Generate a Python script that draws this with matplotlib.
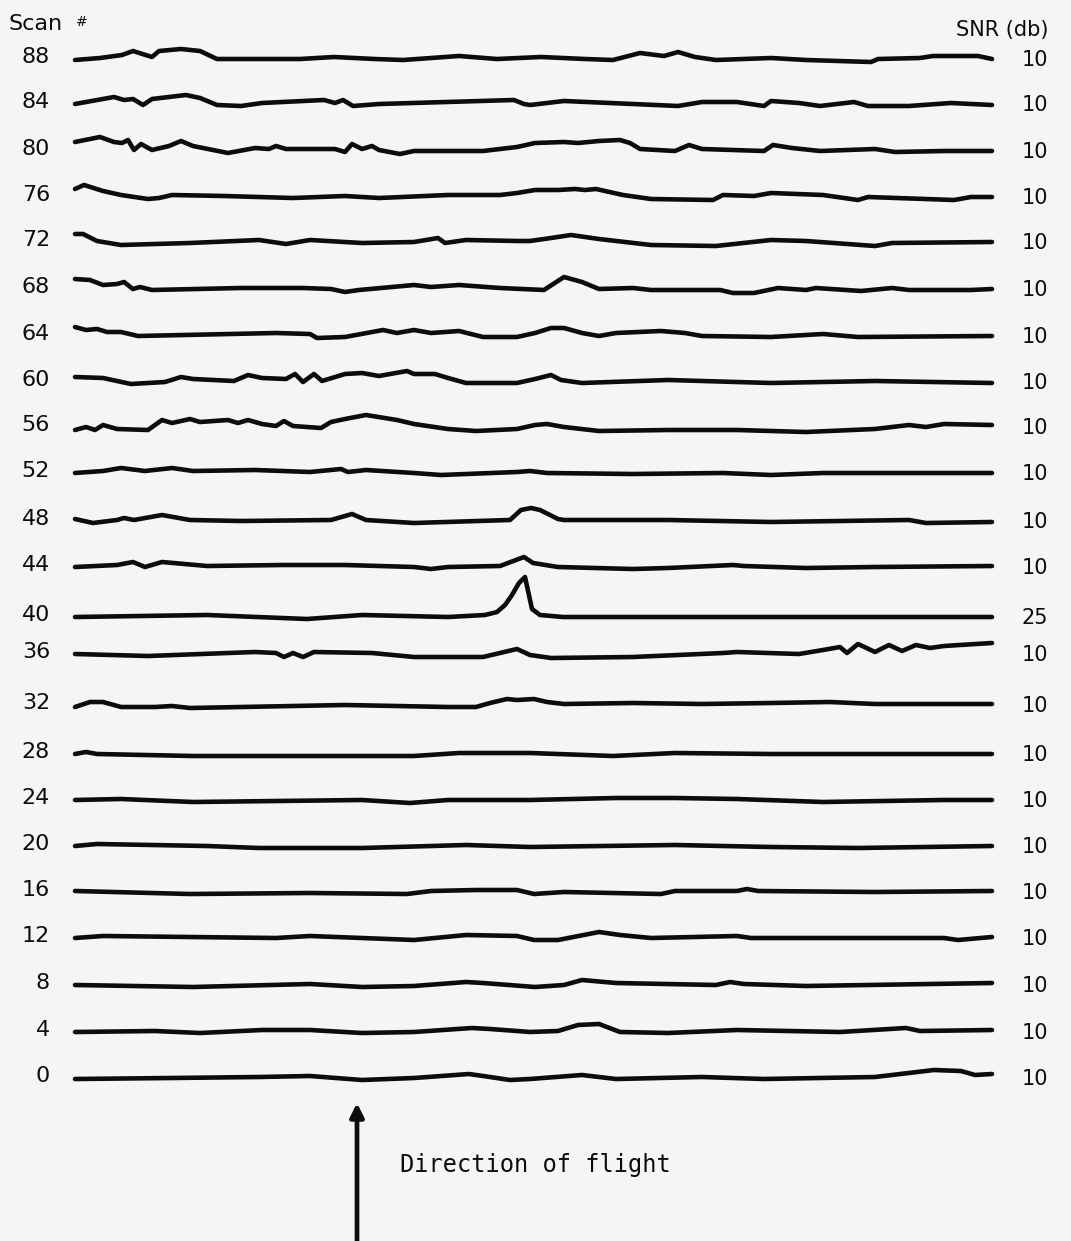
import matplotlib
matplotlib.use('Agg')
import matplotlib.pyplot as plt

# ---------------- data ----------------
# scan numbers (top to bottom) and their signal-to-noise ratio (dB)
scan_numbers = [88, 84, 80, 76, 72, 68, 64, 60, 56, 52, 48, 44,
                40, 36, 32, 28, 24, 20, 16, 12, 8, 4, 0]
snr_db = [10, 10, 10, 10, 10, 10, 10, 10, 10, 10, 10, 10,
          25, 10, 10, 10, 10, 10, 10, 10, 10, 10, 10]

# each trace: (along-track sample, relative amplitude) vertices
scan_88 = [(0, -1), (25, 1), (47, 4), (58, 8), (77, 2), (84, 8), (106, 10), (125, 8), (142, 0),
           (225, 0), (259, 2), (300, 0), (328, -1), (384, 3), (422, 0), (466, 2), (510, 0),
           (538, -1), (565, 6), (589, 3), (603, 7), (620, 2), (641, -1), (696, 1), (731, -1),
           (796, -3), (803, 0), (845, 1), (858, 3), (903, 3), (917, 0)]
scan_84 = [(0, 0), (39, 7), (49, 4), (58, 5), (68, -1), (77, 5), (111, 9), (125, 6), (142, -1),
           (166, -2), (187, 1), (249, 4), (260, 1), (268, 4), (278, -2), (304, 0), (439, 4),
           (449, 0), (455, -1), (489, 3), (558, 0), (603, -2), (627, 2), (662, 2), (689, -2),
           (696, 3), (724, 1), (745, -2), (779, 2), (793, -2), (834, -2), (876, 1), (917, -1)]
scan_80 = [(0, 9), (25, 14), (39, 9), (47, 8), (53, 11), (59, 1), (66, 7), (77, 1), (94, 5),
           (106, 10), (118, 5), (153, -2), (180, 3), (194, 2), (201, 5), (211, 2), (260, 2),
           (270, -1), (277, 7), (287, 2), (297, 5), (304, 1), (325, -3), (339, 0), (408, 0),
           (442, 4), (460, 8), (489, 9), (503, 8), (524, 10), (545, 11), (555, 8), (565, 2),
           (600, 0), (614, 6), (627, 2), (689, 0), (698, 6), (717, 3), (745, 0), (800, 2),
           (820, -1), (869, 0), (917, 0)]
scan_76 = [(0, 8), (9, 12), (28, 6), (46, 2), (73, -2), (84, -1), (97, 2), (149, 1), (218, -1),
           (270, 1), (304, -1), (373, 2), (425, 2), (442, 4), (460, 7), (483, 7), (500, 8),
           (510, 7), (521, 8), (548, 2), (576, -2), (638, -3), (648, 2), (679, 1), (696, 4),
           (748, 2), (783, -3), (793, 0), (879, -3), (896, 0), (917, 0)]
scan_72 = [(0, 8), (8, 8), (22, 1), (46, -3), (80, -2), (115, -1), (184, 2), (211, -2), (235, 2),
           (287, -1), (339, 0), (363, 4), (370, -1), (391, 2), (442, 1), (455, 1), (476, 4),
           (496, 7), (524, 3), (576, -3), (641, -4), (696, 2), (731, 1), (800, -4), (817, -1),
           (917, 0)]
scan_68 = [(0, 10), (15, 9), (28, 4), (42, 5), (49, 7), (58, 0), (65, 2), (77, -1), (166, 1),
           (228, 1), (256, 0), (270, -3), (284, -1), (339, 4), (356, 2), (384, 4), (425, 1),
           (469, -1), (489, 12), (507, 7), (524, 0), (558, 1), (576, -1), (645, -1), (658, -4),
           (679, -4), (703, 1), (731, -1), (741, 1), (786, -2), (817, 1), (834, -1), (896, -1),
           (917, 0)]
scan_64 = [(0, 9), (11, 6), (22, 7), (32, 4), (46, 4), (63, 0), (201, 3), (235, 2), (242, -2),
           (270, -1), (308, 6), (322, 3), (339, 6), (356, 3), (384, 5), (408, -1), (442, -1),
           (460, 3), (476, 8), (489, 8), (507, 3), (524, 0), (541, 3), (586, 5), (610, 3),
           (627, 0), (696, -1), (748, 2), (783, -1), (917, 0)]
scan_60 = [(0, 5), (28, 4), (56, -2), (90, 0), (106, 5), (118, 3), (159, 1), (173, 7), (187, 4),
           (211, 3), (220, 8), (228, 0), (239, 8), (247, 1), (270, 8), (287, 9), (304, 6),
           (332, 11), (339, 8), (360, 8), (373, 4), (391, -1), (442, -1), (460, 3), (476, 7),
           (486, 2), (507, -1), (593, 2), (696, -1), (800, 1), (917, -1)]
scan_56 = [(0, -3), (11, 0), (20, -3), (28, 2), (42, -2), (73, -3), (87, 7), (97, 4), (115, 8),
           (125, 5), (153, 7), (163, 4), (173, 7), (187, 3), (201, 1), (209, 6), (218, 1),
           (246, -1), (256, 5), (270, 8), (291, 12), (322, 7), (339, 3), (373, -2), (401, -4),
           (442, -2), (460, 2), (472, 3), (489, 0), (524, -4), (593, -3), (662, -3), (731, -5),
           (800, -2), (834, 2), (851, 0), (869, 3), (917, 2)]
scan_52 = [(0, 0), (28, 2), (46, 5), (70, 2), (97, 5), (118, 2), (180, 3), (235, 1), (266, 4),
           (273, 1), (291, 3), (339, 0), (366, -2), (442, 1), (455, 2), (472, 0), (558, -1),
           (648, 0), (696, -2), (748, 0), (869, 0), (917, 0)]
scan_48 = [(0, 2), (18, -2), (42, 1), (49, 3), (59, 1), (87, 6), (115, 1), (166, 0), (256, 1),
           (277, 7), (291, 1), (339, -2), (435, 1), (446, 11), (456, 13), (465, 11), (483, 2),
           (489, 1), (593, 1), (696, -1), (765, 0), (834, 1), (851, -2), (917, -1)]
scan_44 = [(0, 0), (42, 2), (58, 5), (70, 0), (87, 5), (132, 1), (208, 2), (270, 2), (339, 0),
           (356, -2), (373, 0), (425, 1), (449, 10), (458, 4), (483, 0), (558, -2), (593, -1),
           (658, 2), (669, 1), (731, -1), (800, 0), (917, 1)]
scan_40 = [(0, 0), (132, 2), (232, -2), (287, 2), (373, 0), (410, 2), (422, 5), (430, 12),
           (437, 22), (444, 34), (450, 40), (457, 8), (465, 2), (488, 0), (917, 0)]
scan_36 = [(0, 0), (73, -2), (180, 2), (201, 1), (209, -3), (218, 1), (228, -3), (239, 2),
           (297, 1), (339, -3), (408, -3), (442, 5), (455, -1), (476, -4), (558, -3), (648, 1),
           (662, 2), (724, 0), (748, 4), (765, 7), (772, 1), (783, 10), (800, 2), (814, 9),
           (827, 3), (841, 9), (855, 6), (869, 8), (917, 11)]
scan_32 = [(0, -2), (15, 3), (28, 3), (46, -2), (80, -2), (97, -1), (115, -3), (166, -2),
           (270, 0), (373, -2), (401, -2), (415, 2), (432, 6), (442, 5), (459, 6), (472, 3),
           (489, 1), (558, 2), (627, 1), (696, 2), (755, 3), (800, 1), (917, 1)]
scan_28 = [(0, 0), (11, 2), (22, 0), (118, -2), (339, -2), (384, 1), (455, 1), (538, -2),
           (600, 1), (696, 0), (917, 0)]
scan_24 = [(0, 0), (46, 1), (118, -2), (287, 0), (335, -3), (373, 0), (455, 0), (541, 2),
           (600, 2), (662, 1), (748, -2), (869, 0), (917, 0)]
scan_20 = [(0, 0), (22, 2), (132, 0), (184, -2), (287, -2), (391, 1), (455, -1), (600, 1),
           (696, -1), (783, -2), (917, 0)]
scan_16 = [(0, 1), (115, -2), (235, -1), (332, -2), (356, 1), (401, 2), (442, 2), (459, -2),
           (489, 0), (586, -2), (600, 1), (662, 1), (672, 3), (683, 1), (800, 0), (917, 1)]
scan_12 = [(0, 0), (28, 2), (201, 0), (235, 2), (339, -2), (391, 3), (442, 2), (459, -2),
           (483, -2), (524, 6), (545, 3), (576, 0), (662, 2), (676, 0), (869, 0), (883, -2),
           (917, 1)]
scan_8 = [(0, 0), (118, -2), (235, 1), (287, -2), (339, -1), (391, 3), (408, 2), (460, -2),
          (489, 0), (507, 5), (541, 2), (641, 0), (655, 3), (669, 1), (731, -1), (917, 2)]
scan_4 = [(0, 0), (80, 1), (125, -1), (187, 2), (235, 2), (287, -1), (339, 0), (397, 4),
          (415, 3), (442, 1), (455, 0), (483, 1), (503, 7), (524, 8), (545, 0), (593, -1),
          (662, 2), (765, 0), (831, 4), (845, 1), (917, 2)]
scan_0 = [(0, -1), (97, 0), (184, 1), (235, 2), (287, -2), (339, 0), (394, 4), (415, 1),
          (435, -2), (455, -1), (507, 3), (541, -1), (627, 1), (689, -1), (800, 1), (859, 8),
          (886, 7), (900, 3), (917, 4)]

traces = [scan_88, scan_84, scan_80, scan_76, scan_72, scan_68, scan_64, scan_60, scan_56,
          scan_52, scan_48, scan_44, scan_40, scan_36, scan_32, scan_28, scan_24, scan_20,
          scan_16, scan_12, scan_8, scan_4, scan_0]

# ---------------- layout ----------------
row_pos = [59, 104, 151, 197, 242, 289, 336, 382, 427, 473, 521, 567,
           617, 654, 705, 754, 800, 846, 892, 938, 985, 1032, 1078]

ink = '#0c0c0c'
bg = '#f5f5f3'

fig = plt.figure(figsize=(10.71, 12.41), dpi=100)
fig.patch.set_facecolor(bg)
ax = fig.add_axes([0, 0, 1, 1])
ax.set_facecolor(bg)
ax.set_xlim(-75, 996)
ax.set_ylim(1241, 0)
ax.axis('off')

for trace, row, scan, snr in zip(traces, row_pos, scan_numbers, snr_db):
    xs = [p[0] for p in trace]
    ys = [row - p[1] for p in trace]
    ax.plot(xs, ys, color=ink, lw=3.3, solid_capstyle='round', solid_joinstyle='round')
    ax.text(-25, row + 4, str(scan), ha='right', va='baseline', fontsize=16,
            family='DejaVu Sans', color=ink)
    ax.text(960, row + 7, str(snr), ha='center', va='baseline', fontsize=15,
            family='DejaVu Sans', color=ink)

ax.text(-66, 30, 'Scan', ha='left', va='baseline', fontsize=16, family='DejaVu Sans', color=ink)
ax.text(7, 26, '#', ha='center', va='baseline', fontsize=10, family='DejaVu Sans', color=ink)
ax.text(927, 36, 'SNR (db)', ha='center', va='baseline', fontsize=15, family='DejaVu Sans', color=ink)

ax.annotate('', xy=(282, 1103), xytext=(282, 1250),
            arrowprops=dict(arrowstyle='-|>', lw=3.4, color=ink, mutation_scale=20,
                            shrinkA=0, shrinkB=0))
ax.text(325, 1172, 'Direction of flight', ha='left', va='baseline', fontsize=17,
        family='DejaVu Sans Mono', color=ink)

fig.savefig('out.png', dpi=100, facecolor=bg)
